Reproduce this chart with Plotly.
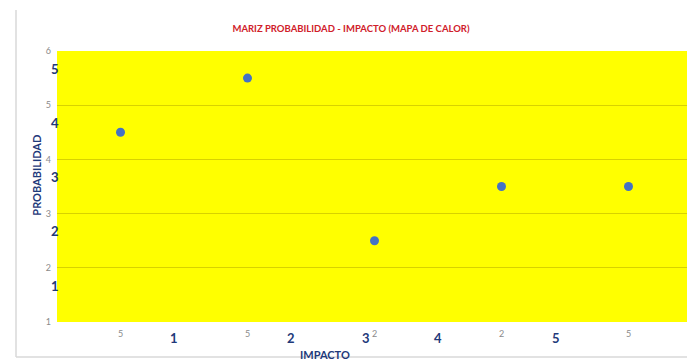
import plotly.graph_objects as go

# data
positions = [1, 2, 3, 4, 5]
impact_tick_labels = ["5", "5", "2", "2", "5"]
probabilidad = [4.5, 5.5, 2.5, 3.5, 3.5]
y_ticks = [1, 2, 3, 4, 5, 6]
y_overlay_labels = ["5", "4", "3", "2", "1"]
y_overlay_values = [5.67, 4.67, 3.67, 2.67, 1.67]
x_overlay_labels = ["1", "2", "3", "4", "5"]
x_overlay_values = [1.42, 2.34, 2.93, 3.5, 4.43]

NAVY = "#1f3a7a"
FONT = "Lato"

W = 702
PLOT_W = W - 57

fig = go.Figure()
fig.add_trace(go.Scatter(
    x=positions, y=probabilidad, mode="markers",
    marker=dict(color="#4472c4", size=9),
    showlegend=False, hoverinfo="skip",
))

def px_x(p):
    return (p - 57) / PLOT_W

ann = []
for t, v in zip(y_overlay_labels, y_overlay_values):
    ann.append(dict(x=px_x(55), xref="paper", y=v, yref="y", text=t, showarrow=False,
                    xanchor="center", yanchor="middle",
                    font=dict(family=FONT, size=13, color=NAVY, weight="bold")))
for t, v in zip(x_overlay_labels, x_overlay_values):
    ann.append(dict(x=v, xref="x", y=-0.06, yref="paper", text=t, showarrow=False,
                    xanchor="center", yanchor="middle",
                    font=dict(family=FONT, size=13, color=NAVY, weight="bold")))
ann.append(dict(x=px_x(325), xref="paper", y=-0.12, yref="paper", text="IMPACTO",
                showarrow=False, xanchor="center", yanchor="middle",
                font=dict(family=FONT, size=11, color=NAVY, weight="bold")))
ann.append(dict(x=px_x(37), xref="paper", y=0.54, yref="paper", text="PROBABILIDAD",
                showarrow=False, textangle=-90, xanchor="center", yanchor="middle",
                font=dict(family=FONT, size=11, color=NAVY, weight="bold")))

fig.update_layout(
    width=W, height=361,
    margin=dict(l=57, r=0, t=51, b=39, autoexpand=False),
    paper_bgcolor="white", plot_bgcolor="#ffff00",
    title=dict(text="MARIZ PROBABILIDAD - IMPACTO (MAPA DE CALOR)",
               x=351 / W, xanchor="center", y=0.92, yanchor="middle",
               font=dict(family=FONT, size=9.5, color="#d0202a", weight="bold")),
    xaxis=dict(range=[0.5, 0.5 + PLOT_W / 127], tickvals=positions, ticktext=impact_tick_labels,
               showgrid=False, zeroline=False, showline=False, ticks="",
               tickfont=dict(family=FONT, size=9, color="#8a8a8a"), ticklabelstandoff=5),
    yaxis=dict(range=[1, 6], tickvals=y_ticks, showgrid=True, gridcolor="#d8d200",
               gridwidth=1, zeroline=False, showline=False, ticks="",
               tickfont=dict(family=FONT, size=9, color="#8a8a8a"), ticklabelstandoff=5),
    annotations=ann,
    shapes=[
        dict(type="line", xref="paper", yref="paper", x0=px_x(16), x1=px_x(16), y0=1.151, y1=-0.129,
             line=dict(color="#d9d9d9", width=1.5)),
        dict(type="line", xref="paper", yref="paper", x0=px_x(16), x1=1.0, y0=-0.129, y1=-0.129,
             line=dict(color="#d9d9d9", width=1.5)),
    ],
)

fig.write_html(
    "out.html",
    config={"displayModeBar": False},
    post_script=(
        "document.documentElement.style.overflow='hidden';"
        "document.body.style.margin='0';document.body.style.overflow='hidden';"
    ),
)
